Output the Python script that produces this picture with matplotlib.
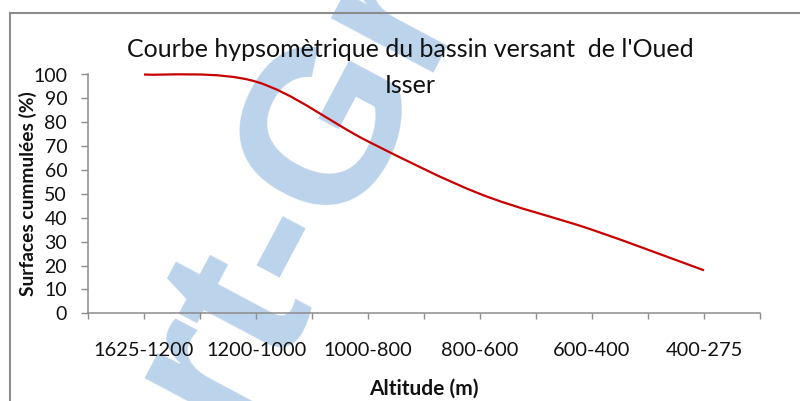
import numpy as np
import matplotlib
matplotlib.use("Agg")
import matplotlib.pyplot as plt
from matplotlib.path import Path
from matplotlib.patches import PathPatch
from matplotlib.lines import Line2D

# --- données ---
categories = ["1625-1200", "1200-1000", "1000-800", "800-600", "600-400", "400-275"]
surfaces = [100, 97, 72, 50, 35, 18]
yticks = list(range(0, 101, 10))

title_l1 = "Courbe hypsomètrique du bassin versant  de l'Oued"
title_l2 = "Isser"
xlabel = "Altitude (m)"
ylabel = "Surfaces cummulées (%)"
wm_left, wm_right = "Rapport-", "Gratuit.com"

# couleurs
red = '#C80000'
axis_grey = '#8C8C8C'
txt = '#111111'
wm_blue = '#BCD3EC'

W, H = 800, 401
FONT = ['Lato', 'DejaVu Sans']


def excel_smooth(xs, ys):
    # courbe lissée façon Excel (Bezier, tension 1/6)
    pts = np.column_stack([xs, ys]).astype(float)
    n = len(pts)
    verts = [pts[0]]
    codes = [Path.MOVETO]
    for i in range(n - 1):
        p0 = pts[max(i - 1, 0)]
        p1 = pts[i]
        p2 = pts[i + 1]
        p3 = pts[min(i + 2, n - 1)]
        verts += [p1 + (p2 - p0) / 6, p2 - (p3 - p1) / 6, p2]
        codes += [Path.CURVE4] * 3
    return Path(verts, codes)


fig = plt.figure(figsize=(W / 100, H / 100), dpi=100)
fig.patch.set_facecolor('white')

ax = fig.add_axes([88 / W, 1 - 313.3 / H, (760 - 88) / W, (313.3 - 74.5) / H])
ax.patch.set_visible(False)

x = np.arange(len(categories))
ax.add_patch(PathPatch(excel_smooth(x, surfaces), fill=False, edgecolor=red,
                       lw=1.6, clip_on=False, capstyle='butt', zorder=3))

ax.set_xlim(-0.5, len(categories) - 0.5)
ax.set_ylim(0, 100)
ax.set_xticks(x)
ax.set_xticklabels(categories, family=FONT, fontsize=14.4, color=txt)
ax.set_xticks(np.arange(-0.5, len(categories), 1), minor=True)
ax.set_yticks(yticks)
ax.set_yticklabels([str(v) for v in yticks], family=FONT, fontsize=14, color=txt)

for s in ['top', 'right']:
    ax.spines[s].set_visible(False)
for s in ['left', 'bottom']:
    ax.spines[s].set_color(axis_grey)
    ax.spines[s].set_linewidth(1.1)

ax.tick_params(axis='x', which='both', direction='out', length=4.5, width=1.0, color=axis_grey)
ax.tick_params(axis='x', which='major', pad=16)
ax.tick_params(axis='y', direction='out', length=5, width=1.0, color=axis_grey, pad=10)

# titres
fig.text(410 / W, 1 - 57 / H, title_l1, ha='center', va='baseline',
         family=FONT, fontsize=18, color=txt)
fig.text(410 / W, 1 - 93 / H, title_l2, ha='center', va='baseline',
         family=FONT, fontsize=18, color=txt)
fig.text(424 / W, 1 - 389 / H, xlabel, ha='center', va='center',
         family=FONT, fontsize=15, fontweight='bold', color=txt)
fig.text(28 / W, 1 - 194 / H, ylabel, ha='center', va='center', rotation=90,
         family=FONT, fontsize=13.8, fontweight='bold', color=txt)

# cadre du graphique (seuls haut et gauche visibles)
fig.add_artist(Line2D([10 / W, 10 / W], [0, 1 - 12.5 / H], color=axis_grey, lw=1.5))
fig.add_artist(Line2D([10 / W, 1], [1 - 12.5 / H, 1 - 12.5 / H], color=axis_grey, lw=1.5))

# filigrane
for s, ha in [(wm_left, 'right'), (wm_right, 'left')]:
    fig.text(342 / W, 1 - 228 / H, s, rotation=62, rotation_mode='anchor',
             ha=ha, va='baseline', fontsize=158, fontweight='bold',
             family='Liberation Sans', color=wm_blue, zorder=-5)

fig.savefig('out.png', dpi=100)
